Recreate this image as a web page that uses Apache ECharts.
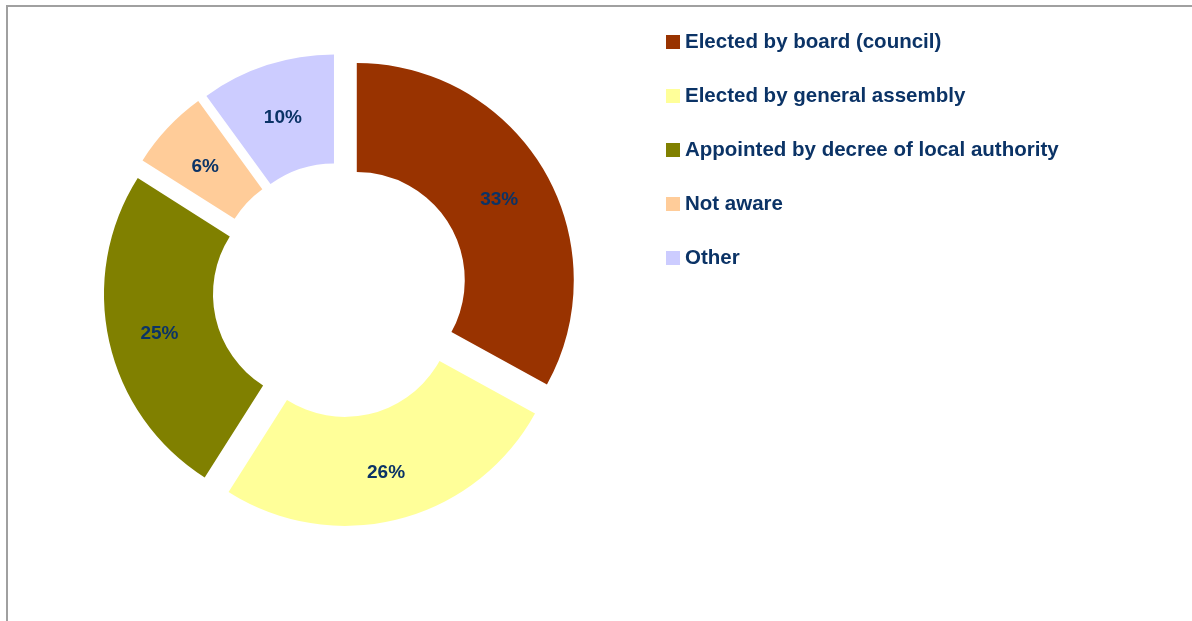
<!DOCTYPE html>
<html>
<head>
<meta charset="utf-8">
<style>
html,body{margin:0;padding:0;background:#fff;}
#chart{width:1192px;height:621px;}
</style>
<script src="https://cdn.jsdelivr.net/npm/echarts@6/dist/echarts.min.js"></script>
</head>
<body>
<div id="chart"></div>
<script>
const categories = ["Elected by board (council)", "Elected by general assembly", "Appointed by decree of local authority", "Not aware", "Other"];
const values = [33, 26, 25, 6, 10];
const colors = ["#993300", "#FFFF99", "#808000", "#FFCC99", "#CCCCFF"];

const chart = echarts.init(document.getElementById('chart'), null, {renderer: 'canvas'});
const textColor = '#0B3366';
const labelFont = {
  color: textColor,
  fontFamily: 'Liberation Sans, Arial, sans-serif',
  fontWeight: 'bold',
  fontSize: 19
};
chart.setOption({
  animation: false,
  backgroundColor: '#ffffff',
  graphic: [{
    type: 'rect',
    shape: {x: 7, y: 6, width: 1400, height: 800},
    style: {fill: 'none', stroke: '#a0a0a0', lineWidth: 2},
    silent: true
  }],
  legend: {
    orient: 'vertical',
    left: 666,
    top: 31,
    padding: 0,
    icon: 'rect',
    itemWidth: 14,
    itemHeight: 14,
    itemGap: 32,
    selectedMode: false,
    textStyle: {
      color: textColor,
      fontFamily: 'Liberation Sans, Arial, sans-serif',
      fontWeight: 'bold',
      fontSize: 20.5,
      lineHeight: 22
    },
    data: categories
  },
  series: [{
    type: 'pie',
    center: [340, 290],
    radius: [108, 217],
    startAngle: 90,
    clockwise: true,
    selectedMode: 'multiple',
    selectedOffset: 19.5,
    avoidLabelOverlap: false,
    label: Object.assign({
      show: true,
      position: 'inside',
      formatter: '{v|{d}%}',
      rich: {
        v: Object.assign({lineHeight: 20, padding: [7, 0, 0, 0]}, labelFont)
      }
    }, labelFont),
    labelLine: {show: false},
    itemStyle: {borderWidth: 0},
    select: {itemStyle: {borderWidth: 0}},
    emphasis: {disabled: true},
    data: categories.map((c, i) => ({
      name: c,
      value: values[i],
      selected: true,
      itemStyle: {color: colors[i]},
      select: {itemStyle: {color: colors[i], borderWidth: 0}}
    }))
  }]
});
</script>
</body>
</html>
